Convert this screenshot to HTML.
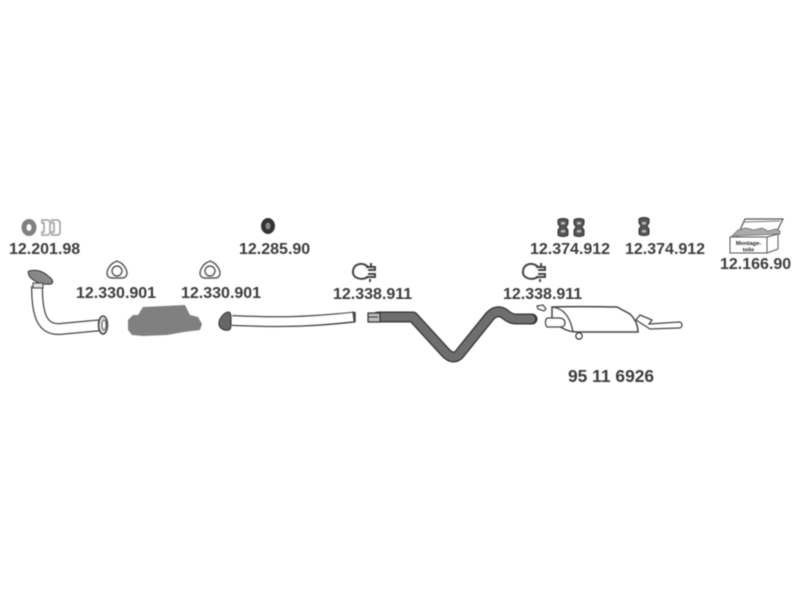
<!DOCTYPE html>
<html><head><meta charset="utf-8"><style>
html,body{margin:0;padding:0;background:#fff}
svg{display:block;filter:blur(.5px)}
text{font-family:"Liberation Sans",sans-serif;font-weight:bold;font-size:16px;fill:#3c3c3c}
</style></head><body>
<svg width="800" height="600" viewBox="0 0 800 600" xmlns="http://www.w3.org/2000/svg">
<rect width="800" height="600" fill="#fff"/>
<text x="9" y="254">12.201.98</text>
<text x="239" y="254">12.285.90</text>
<text x="530" y="254">12.374.912</text>
<text x="625" y="254">12.374.912</text>
<text x="720" y="269">12.166.90</text>
<text x="76" y="298">12.330.901</text>
<text x="181" y="298">12.330.901</text>
<text x="333" y="299">12.338.911</text>
<text x="503" y="299">12.338.911</text>
<text x="568" y="382" style="font-size:17.4px">95 11 6926</text>

<!-- gasket and clamps -->
<ellipse cx="29" cy="227.5" rx="5" ry="6" fill="none" stroke="#808080" stroke-width="5"/>
<g fill="none" stroke="#aaa" stroke-width="1.8">
<path d="M42,220h5c2,0 3,1 3,3v9c0,2-1,3-3,3h-5v-3h2v-9h-2z"/>
<path d="M52,220h5c2,0 3,1 3,3v9c0,2-1,3-3,3h-5v-3h2v-9h-2z"/>
</g>
<!-- ring -->
<ellipse cx="268" cy="226" rx="7" ry="8" fill="#333"/><ellipse cx="268" cy="226" rx="2.5" ry="3.5" fill="#888"/>
<!-- three-bolt gaskets -->
<g fill="#fff" stroke="#555" stroke-width="1.4">
<path d="M117,261l4,2c3,2 6,7 6,10c0,3-2,5-5,5h-10c-3,0-5-2-5-5c0-3 3-8 6-10z"/>
<circle cx="117" cy="271" r="5"/>
<path d="M210,261l4,2c3,2 6,7 6,10c0,3-2,5-5,5h-10c-3,0-5-2-5-5c0-3 3-8 6-10z"/>
<circle cx="210" cy="271" r="5"/>
</g>
<!-- clamps -->
<g fill="none" stroke="#444" stroke-width="2">
<path d="M368,267c-5-5-14-4-15,4c-1,7 8,10 15,6"/><path d="M366,267h9v3h-7M366,277h9v-3h-7M370,279v3M371,263v3"/>
<path d="M538,267c-5-5-14-4-15,4c-1,7 8,10 15,6"/><path d="M536,267h9v3h-7M536,277h9v-3h-7M540,279v3M541,263v3"/>
</g>
<!-- hangers -->
<g fill="#555" stroke="#333" stroke-width="1" stroke-linejoin="round">
<path d="M558,220c2-2 8-2 10,0v4l-2,3 2,3v5c-2,2-8,2-10,0v-5l2-3-2-3z"/>
<path d="M574,220c2-2 8-2 10,0v4l-2,3 2,3v5c-2,2-8,2-10,0v-5l2-3-2-3z"/>
<path d="M639,219c2-2 8-2 10,0v4l-2,3 2,3v5c-2,2-8,2-10,0v-5l2-3-2-3z"/>
</g>
<g fill="#bbb"><rect x="561" y="222" width="4" height="2.5"/><rect x="561" y="230" width="4" height="2.5"/><rect x="577" y="222" width="4" height="2.5"/><rect x="577" y="230" width="4" height="2.5"/><rect x="642" y="222" width="4" height="2.5"/><rect x="642" y="230" width="4" height="2.5"/></g>

<!-- front pipe -->
<path d="M37,286C37,315 42,330 60,329L103,325" fill="none" stroke="#444" stroke-width="12"/>
<path d="M37,286C37,315 42,330 60,329L103,325" fill="none" stroke="#fff" stroke-width="9.5"/>
<path d="M29,271c6-2 14,0 19,5c5,3 6,7 3,8c-7,1-14,-1-19,-5c-3,-2-5,-7-3,-8z" fill="#888" stroke="#333"/>
<path d="M33,283h10v5h-10z" fill="#ddd" stroke="#444"/>
<ellipse cx="103" cy="325" rx="4.5" ry="9" fill="#ddd" stroke="#444" stroke-width="1.5"/>
<ellipse cx="104" cy="325" rx="2" ry="5" fill="#fff" stroke="#555"/>
<!-- catalyst -->
<path d="M128,320l5-5h5l5-8 42-2 5,10 8,2 4,7-2,6-16,2-17,3-24,1-11,-1-4,-5z" fill="#808080"/>
<!-- centre pipe -->
<path d="M232,320.5C270,322 300,323 355,317" fill="none" stroke="#444" stroke-width="11"/>
<path d="M232,320.5C270,322 300,323 353,317" fill="none" stroke="#fff" stroke-width="8.5"/>
<path d="M355,312v10" stroke="#444" stroke-width="1.5"/>
<path d="M229,312c-5,0-11,7-10,13c1,4 6,6 10,5c2-1 2-3 2-9c0-5 0-8-2-9z" fill="#666" stroke="#333"/>
<!-- intermediate dark pipe -->
<path d="M378,317H413L445,352Q454,362 461,352L490,316Q498,308 506,315Q511,319 516,319H532" fill="none" stroke="#333" stroke-width="11" stroke-linejoin="round" stroke-linecap="round"/>
<path d="M378,317H413L445,352Q454,362 461,352L490,316Q498,308 506,315Q511,319 516,319H531" fill="none" stroke="#6e6e6e" stroke-width="8.5" stroke-linejoin="round" stroke-linecap="round"/>
<path d="M368,313h12v9h-12z" fill="#bbb" stroke="#333" stroke-width="1.2"/>
<path d="M368,317h10" stroke="#333"/>
<!-- muffler -->
<path d="M640,315l12,5-3,4 30-2c4,0 4,6 0,6l-29,1-14-9z" fill="#fff" stroke="#444" stroke-width="1.3"/>
<path d="M552,307C580,306 600,307 617,307L630,314C636,320 638,326 638,332H577C566,332 556,325 552,320z" fill="#fff" stroke="#444" stroke-width="1.5"/>
<path d="M552,307c10,1 18,8 21,25" fill="none" stroke="#444" stroke-width="1.3"/>
<path d="M547,318h12c4,0 6,2 6,5s-2,4-6,4h-12c-2,-2-2,-7 0-9z" fill="#fff" stroke="#444" stroke-width="1.3"/>
<path d="M537,306l6-1 3,4-2,2-6-2z" fill="#fff" stroke="#444" stroke-width="1.2"/>
<circle cx="579" cy="336" r="3.2" fill="#fff" stroke="#444" stroke-width="1.3"/>
<!-- box -->
<path d="M737,237l8-18h38l-7,14" fill="none" stroke="#555" stroke-width="1.2"/>
<path d="M744,222l36,-1" stroke="#777" fill="none"/>
<path d="M732,236l6-6 8-2 8,2 8-2 6,3 8-2 4,2v3z" fill="#aaa" stroke="#666" stroke-width=".7"/>
<path d="M767,237l11-3v15l-11,4z" fill="#fff" stroke="#555"/>
<rect x="730" y="237" width="37" height="16" fill="#fff" stroke="#555"/>
<text x="748.5" y="245" text-anchor="middle" style="font-size:5.7px;fill:#222">Montage-</text>
<text x="748.5" y="251.5" text-anchor="middle" style="font-size:5.7px;fill:#222">teile</text>
</svg>
</body></html>
